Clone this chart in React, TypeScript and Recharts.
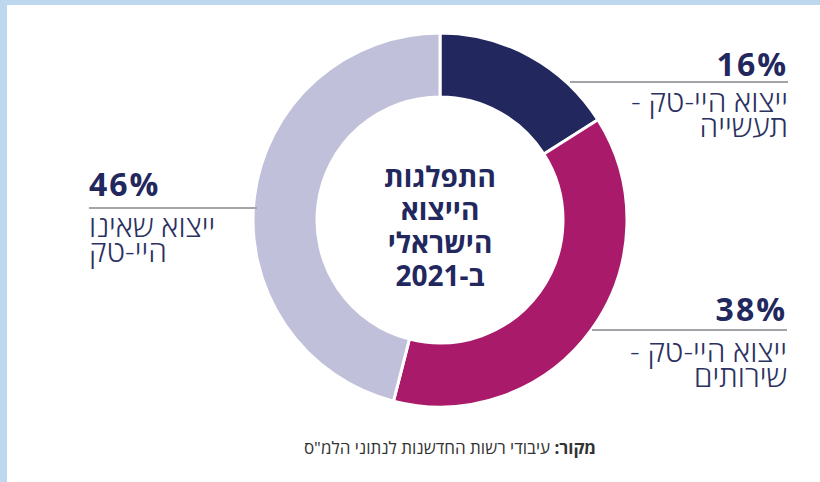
import { PieChart, Pie, Cell } from 'recharts';

const sectors = ['ייצוא היי-טק - תעשייה', 'ייצוא היי-טק - שירותים', 'ייצוא שאינו היי-טק'];
const shares = [16, 38, 46];
const colors = ['#22285e', '#a91a6a', '#c1c0da'];

const labelLines = [
    ['ייצוא היי-טק -', 'תעשייה'],
    ['ייצוא היי-טק -', 'שירותים'],
    ['ייצוא שאינו', 'היי-טק'],
];

const titleLines = ['התפלגות', 'הייצוא', 'הישראלי', 'ב-2021'];
const sourceBold = 'מקור:';
const sourceText = 'עיבודי רשות החדשנות לנתוני הלמ"ס';

const data = sectors.map((name, i) => ({ name, value: shares[i] }));

const NAVY = '#22285e';
const FONT = "'Open Sans', 'Liberation Sans', 'DejaVu Sans', sans-serif";

// where each label block sits (pct top, rule y, rule x range, text top, alignment)
const labelPos = [
    { pctTop: 48, ruleY: 81, x1: 570, x2: 788, textTop: 88, align: 'right' },
    { pctTop: 293, ruleY: 329, x1: 592, x2: 787, textTop: 338, align: 'right' },
    { pctTop: 168, ruleY: 207, x1: 89, x2: 257, textTop: 213, align: 'left' },
];

function Label({ i }: { i: number }) {
    const p = labelPos[i];
    const w = p.x2 - p.x1;
    return (
        <>
            <div style={{
                position: 'absolute', left: p.x1, top: p.pctTop, width: w,
                fontSize: 32, fontWeight: 700, lineHeight: '32px', letterSpacing: 2, color: NAVY,
                textAlign: p.align as any, direction: 'ltr',
            }}>{shares[i]}%</div>
            <div style={{ position: 'absolute', left: p.x1, top: p.ruleY, width: w, height: 2, background: '#a3a3a8' }} />
            <div dir="rtl" style={{
                position: 'absolute', left: p.x1, top: p.textTop, width: w,
                fontSize: 30, fontWeight: 300, lineHeight: '25px', color: '#2b3160',
                textAlign: p.align === 'right' ? 'start' : 'end',
            }}>
                {labelLines[i].map((t, k) => <div key={k}>{t}</div>)}
            </div>
        </>
    );
}

export default function App() {
    return (
        <div style={{ position: 'absolute', left: 0, top: 0, width: 820, height: 482, background: '#bdd7ee', fontFamily: FONT, overflow: 'hidden' }}>
            <div style={{ position: 'absolute', left: 7, top: 5, width: 813, height: 477, background: '#ffffff' }} />
            <div style={{ position: 'absolute', left: 0, top: 0 }}>
                <PieChart width={820} height={482} margin={{ top: 0, right: 0, bottom: 0, left: 0 }}>
                    <Pie
                        data={data}
                        dataKey="value"
                        nameKey="name"
                        cx={440}
                        cy={220}
                        innerRadius={123}
                        outerRadius={187}
                        startAngle={90}
                        endAngle={-270}
                        stroke="#ffffff"
                        strokeWidth={3}
                        isAnimationActive={false}
                    >
                        {data.map((d, i) => <Cell key={d.name} fill={colors[i]} />)}
                    </Pie>
                </PieChart>
            </div>
            <div dir="rtl" style={{
                position: 'absolute', left: 340, top: 160, width: 200, textAlign: 'center',
                fontSize: 28, fontWeight: 700, lineHeight: '33px', color: NAVY,
            }}>
                {titleLines.map((t, k) => <div key={k}>{t}</div>)}
            </div>
            {shares.map((_, i) => <Label key={i} i={i} />)}
            <div dir="rtl" style={{
                position: 'absolute', left: 200, top: 438, width: 500, textAlign: 'center',
                fontSize: 17, lineHeight: '20px', color: '#333333',
            }}>
                <b>{sourceBold}</b> {sourceText}
            </div>
        </div>
    );
}
